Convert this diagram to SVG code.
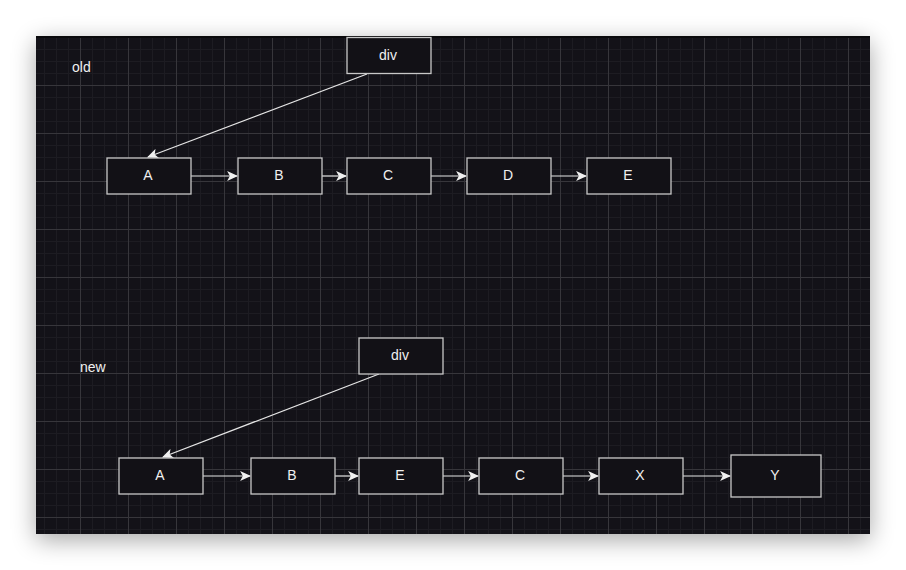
<svg xmlns="http://www.w3.org/2000/svg" width="906" height="570" viewBox="0 0 906 570">
<defs>
<style>
.node rect{fill:#121116;stroke:#c8c8c8;stroke-width:1.3}
.node text,.lbl{font-family:"Liberation Sans",Arial,sans-serif;font-size:14px;fill:#f0f0f0;text-anchor:middle}
.lbl{text-anchor:start}
.edge{stroke:#e6e6e6;stroke-width:1.2;fill:none;marker-end:url(#arr)}
</style>
<marker id="arr" viewBox="0 0 10 10" refX="9" refY="5" markerWidth="11" markerHeight="11" markerUnits="userSpaceOnUse" orient="auto">
<path d="M0,0.5 L10,5 L0,9.5 L2.5,5 Z" fill="#f0f0f0"/>
</marker>
<pattern id="grid" patternUnits="userSpaceOnUse" x="32" y="37" width="48" height="48">
<rect width="48" height="48" fill="#131218"/>
<g fill="#1d1c22">
<rect x="12" y="0" width="1" height="48"/><rect x="24" y="0" width="1" height="48"/><rect x="36" y="0" width="1" height="48"/>
<rect x="0" y="12" width="48" height="1"/><rect x="0" y="24" width="48" height="1"/><rect x="0" y="36" width="48" height="1"/>
</g>
<g fill="#37363b">
<rect x="0" y="0" width="1" height="48"/><rect x="0" y="0" width="48" height="1"/>
</g>
</pattern>
<filter id="sh" x="-10%" y="-10%" width="120%" height="125%">
<feGaussianBlur in="SourceAlpha" stdDeviation="12"/>
<feOffset dy="6"/>
<feComponentTransfer><feFuncA type="linear" slope="0.35"/></feComponentTransfer>
<feMerge><feMergeNode/><feMergeNode in="SourceGraphic"/></feMerge>
</filter>
</defs>
<rect width="906" height="570" fill="#ffffff"/>
<rect x="36" y="36" width="834" height="498" fill="#131218" filter="url(#sh)"/>
<rect x="36" y="36" width="834" height="498" fill="url(#grid)"/>
<rect x="36" y="36" width="834" height="2" fill="#0a0a0c"/>
<text class="lbl" x="72" y="72">old</text>
<text class="lbl" x="80" y="372">new</text>
<g id="connectors">
<path class="edge" d="M367,74 L148,157"/>
<path class="edge" d="M191,176 L237,176"/>
<path class="edge" d="M322,176 L346,176"/>
<path class="edge" d="M431,176 L466,176"/>
<path class="edge" d="M551,176 L586,176"/>
<path class="edge" d="M379,374 L163,457"/>
<path class="edge" d="M203,476 L250,476"/>
<path class="edge" d="M335,476 L358,476"/>
<path class="edge" d="M443,476 L478,476"/>
<path class="edge" d="M563,476 L598,476"/>
<path class="edge" d="M683,476 L730,476"/>
</g>
<g id="old-div" class="node"><rect x="347" y="37.5" width="84" height="36"/><text x="388" y="60">div</text></g>
<g id="old-A" class="node"><rect x="107" y="158" width="84" height="36"/><text x="148" y="180">A</text></g>
<g id="old-B" class="node"><rect x="238" y="158" width="84" height="36"/><text x="279" y="180">B</text></g>
<g id="old-C" class="node"><rect x="347" y="158" width="84" height="36"/><text x="388" y="180">C</text></g>
<g id="old-D" class="node"><rect x="467" y="158" width="84" height="36"/><text x="508" y="180">D</text></g>
<g id="old-E" class="node"><rect x="587" y="158" width="84" height="36"/><text x="628" y="180">E</text></g>
<g id="new-div" class="node"><rect x="359" y="338" width="84" height="36"/><text x="400" y="360">div</text></g>
<g id="new-A" class="node"><rect x="119" y="458" width="84" height="36"/><text x="160" y="480">A</text></g>
<g id="new-B" class="node"><rect x="251" y="458" width="84" height="36"/><text x="292" y="480">B</text></g>
<g id="new-E" class="node"><rect x="359" y="458" width="84" height="36"/><text x="400" y="480">E</text></g>
<g id="new-C" class="node"><rect x="479" y="458" width="84" height="36"/><text x="520" y="480">C</text></g>
<g id="new-X" class="node"><rect x="599" y="458" width="84" height="36"/><text x="640" y="480">X</text></g>
<g id="new-Y" class="node"><rect x="731" y="455" width="90" height="42"/><text x="775" y="480">Y</text></g>
</svg>
